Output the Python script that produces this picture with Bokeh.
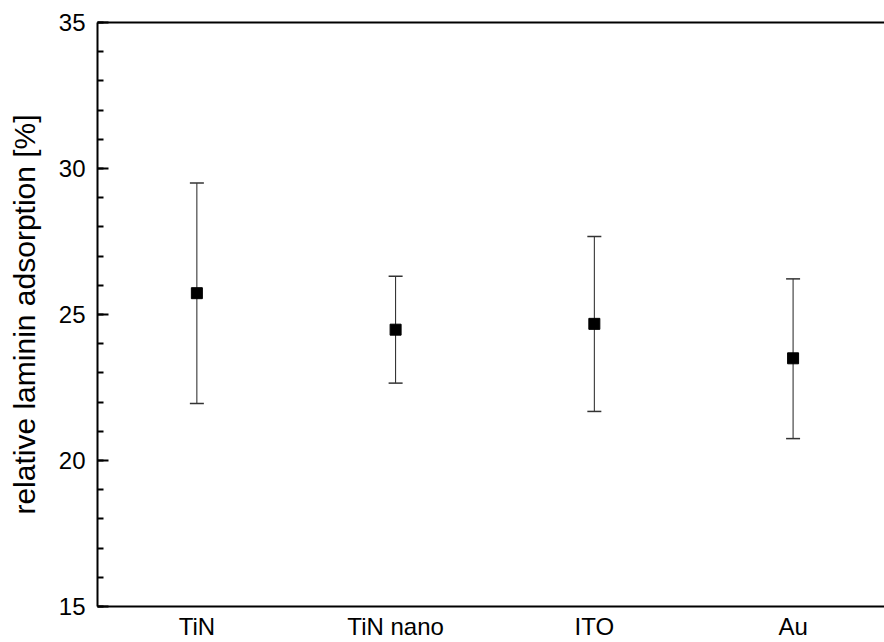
from bokeh.plotting import figure
from bokeh.models import (ColumnDataSource, Whisker, TeeHead, LinearAxis, Range1d,
                          SingleIntervalTicker, FixedTicker)
from bokeh.embed import file_html
from bokeh.resources import INLINE

categories = ["TiN", "TiN nano", "ITO", "Au"]
positions = [1, 2, 3, 4]
means = [25.73, 24.48, 24.68, 23.50]
upper = [29.50, 26.31, 27.67, 26.22]
lower = [21.95, 22.65, 21.68, 20.75]
y_ticks_major = 5
y_min, y_max = 15, 35

FONT = "Liberation Sans"

p = figure(width=884, height=642, output_backend="svg", toolbar_location=None,
           x_range=Range1d(0.5, 4.46), y_range=Range1d(y_min, y_max),
           min_border_left=97, min_border_top=22, min_border_bottom=36,
           min_border_right=0, x_axis_type=None, y_axis_type=None)
p.outline_line_color = None
p.xgrid.visible = False
p.ygrid.visible = False
p.background_fill_color = "white"
p.border_fill_color = "white"

src = ColumnDataSource(dict(x=positions, y=means, up=upper, lo=lower))

w = Whisker(source=src, base="x", upper="up", lower="lo", dimension="height",
            line_color="#222222", line_width=1,
            upper_head=TeeHead(size=14, line_color="#333333", line_width=1.5),
            lower_head=TeeHead(size=14, line_color="#333333", line_width=1.5))
p.add_layout(w)
p.scatter("x", "y", source=src, marker="square", size=11, color="black")

# left axis
yl = LinearAxis(ticker=SingleIntervalTicker(interval=y_ticks_major, num_minor_ticks=5),
                axis_label="relative laminin adsorption [%]")
yl.axis_line_width = 2
yl.axis_line_color = "black"
yl.major_tick_in = 11
yl.major_tick_out = 0
yl.minor_tick_in = 6
yl.minor_tick_out = 0
yl.major_tick_line_width = 2
yl.minor_tick_line_width = 2
yl.major_label_text_font = FONT
yl.major_label_text_font_size = "24px"
yl.major_label_text_color = "black"
yl.major_label_standoff = 12
yl.axis_label_text_font = FONT
yl.axis_label_text_font_size = "30px"
yl.axis_label_text_font_style = "normal"
yl.axis_label_text_color = "black"
yl.axis_label_standoff = 15
p.add_layout(yl, "left")

# bottom axis
xb = LinearAxis(ticker=FixedTicker(ticks=positions))
xb.major_label_overrides = {pos: c for pos, c in zip(positions, categories)}
xb.axis_line_width = 2
xb.axis_line_color = "black"
xb.major_tick_in = 0
xb.major_tick_out = 0
xb.minor_tick_line_color = None
xb.major_label_text_font = FONT
xb.major_label_text_font_size = "24px"
xb.major_label_text_color = "black"
xb.major_label_standoff = 6
p.add_layout(xb, "below")

# top axis (line only)
xt = LinearAxis(ticker=FixedTicker(ticks=[]))
xt.axis_line_width = 2
xt.axis_line_color = "black"
xt.major_tick_in = 0
xt.major_tick_out = 0
xt.minor_tick_line_color = None
xt.major_label_standoff = 0
p.add_layout(xt, "above")

open("out.html", "w").write(file_html(p, INLINE))
